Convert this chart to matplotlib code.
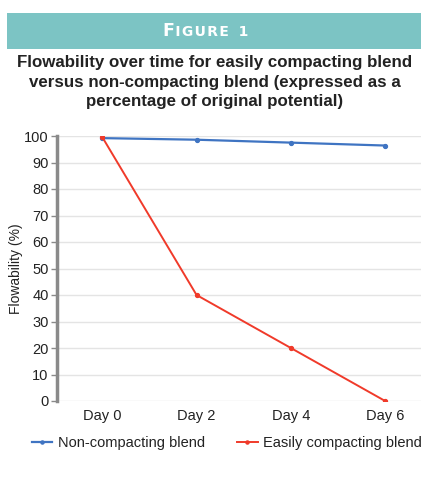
import matplotlib.pyplot as plt
from matplotlib.patches import Rectangle

days = ["Day 0", "Day 2", "Day 4", "Day 6"]
non_compacting = [99.2, 98.6, 97.5, 96.4]
easily_compacting = [99.6, 40, 20, 0]

yticks = list(range(0, 101, 10))

font = "Liberation Sans"
ink = "#222222"

fig = plt.figure(figsize=(4.32, 4.93), dpi=100)

# teal header banner with small-caps "Figure 1"
fig.patches.append(Rectangle((7 / 432, 1 - 49 / 493), 414 / 432, 36 / 493,
                             transform=fig.transFigure, facecolor="#7cc4c4",
                             edgecolor="none"))
hs = "\u200a"
fig.text(174 / 432, 1 - 31 / 493, "F", ha="right", va="center",
         color="white", fontsize=12.5, fontweight="bold", family="DejaVu Sans")
fig.text(174 / 432, 1 - 31.5 / 493, hs + hs.join("IGURE") + "  1",
         ha="left", va="center", color="white", fontsize=10,
         fontweight="bold", family="DejaVu Sans")

title = ("Flowability over time for easily compacting blend\n"
         "versus non-compacting blend (expressed as a\n"
         "percentage of original potential)")
fig.text(0.497, 1 - 82 / 493, title, ha="center", va="center",
         fontsize=12.2, fontweight="bold", color=ink, linespacing=1.36,
         family=font)

ax = fig.add_axes([57 / 432, 1 - 401 / 493, 364 / 432, 265 / 493])
x = range(len(days))
ax.plot(x, non_compacting, color="#3f74c2", lw=1.6, marker="o", ms=2.8,
        label="Non-compacting blend")
ax.plot(x, easily_compacting, color="#f03a2a", lw=1.4, marker="o", ms=2.8,
        label="Easily compacting blend")

ax.set_xlim(-0.48, 3.38)
ax.set_ylim(0, 100)
ax.set_yticks(yticks)
ax.set_xticks(list(x))
ax.set_xticklabels(days)
ax.grid(axis="y", color="#e4e4e4", lw=1)
ax.set_axisbelow(True)
for s in ["top", "right", "bottom"]:
    ax.spines[s].set_visible(False)
ax.spines["left"].set_color("#8a8a8a")
ax.spines["left"].set_linewidth(2.5)
ax.tick_params(axis="y", length=4, width=1, color="#8a8a8a", pad=2,
               labelsize=10.5, labelcolor=ink)
ax.tick_params(axis="x", length=0, pad=6, labelsize=10.5, labelcolor=ink)
for lab in ax.get_xticklabels() + ax.get_yticklabels():
    lab.set_family(font)
ax.set_ylabel("Flowability (%)", fontsize=10, family=font, color=ink,
              labelpad=1)

leg = fig.legend(loc="center", bbox_to_anchor=(227 / 432, 1 - 443 / 493),
                 ncol=2, frameon=False, prop={"family": font, "size": 10.5},
                 handlelength=1.4, handletextpad=0.4, columnspacing=2.2,
                 markerscale=0.8)
for t in leg.get_texts():
    t.set_color(ink)

fig.savefig("out.png", dpi=100)
